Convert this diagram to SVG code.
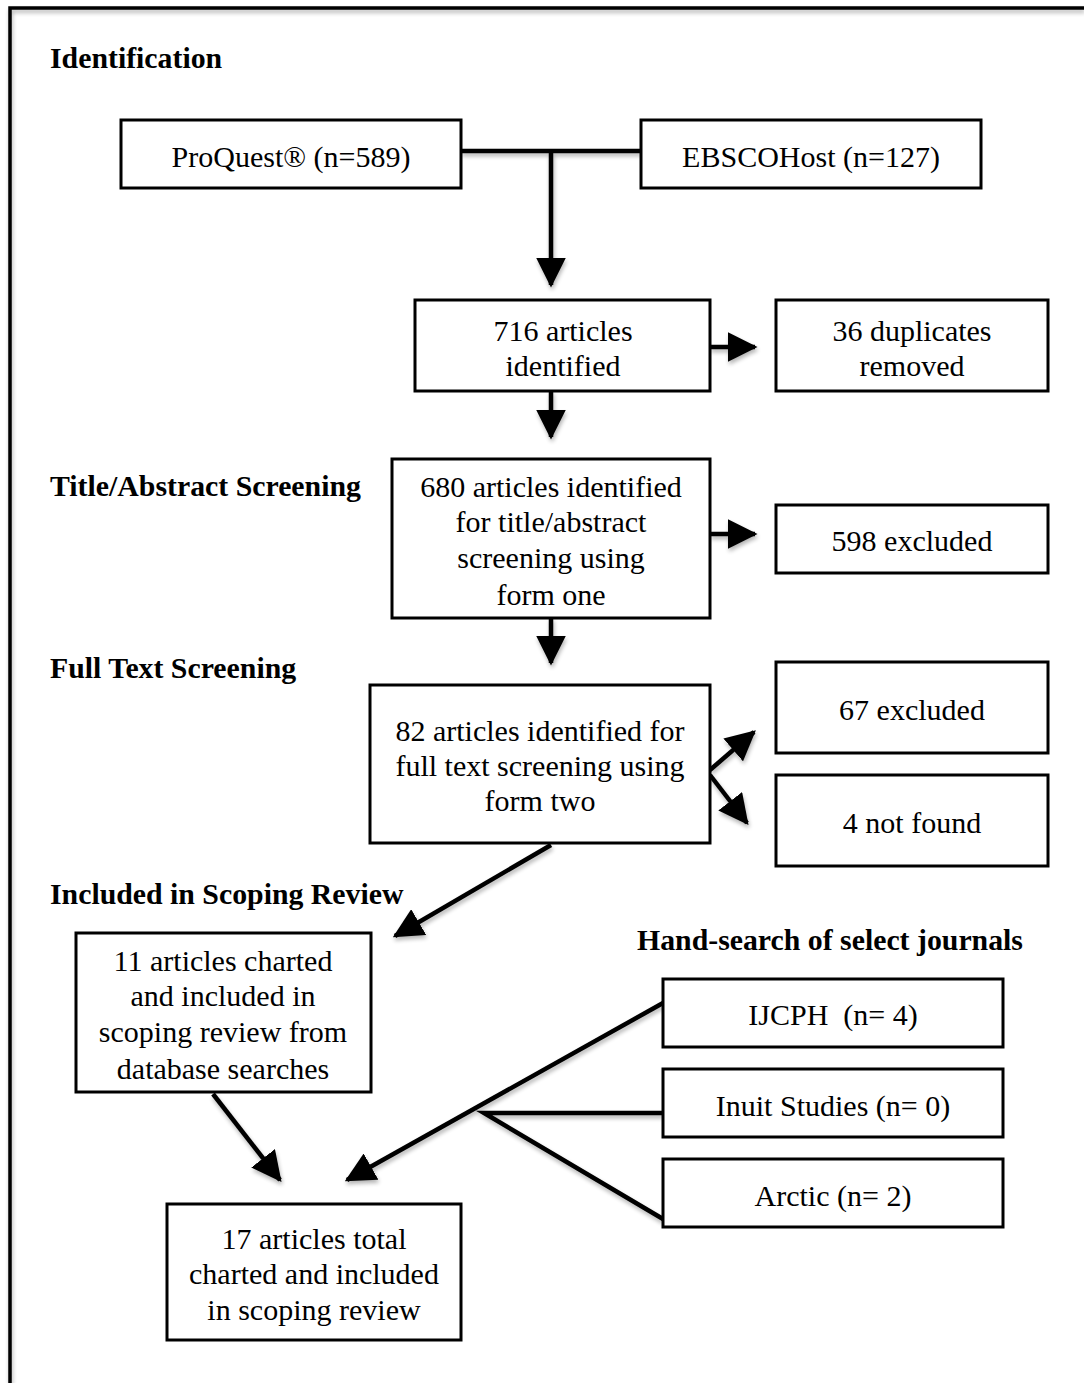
<svg xmlns="http://www.w3.org/2000/svg" width="1084" height="1383" viewBox="0 0 1084 1383">
<style>
.box{fill:#fff;stroke:#000;stroke-width:3}
.t{font-family:"Liberation Serif","Times New Roman",serif;font-size:30px;fill:#000;text-anchor:middle}
.h{font-family:"Liberation Serif","Times New Roman",serif;font-size:29.8px;font-weight:bold;fill:#000}
.c{fill:none;stroke:#000;stroke-width:4.5}
</style>
<defs>
<marker id="ah" markerUnits="userSpaceOnUse" markerWidth="30" markerHeight="30" viewBox="0 0 24 24" refX="22" refY="12" orient="auto">
<path d="M0,0 L24,12 L0,24 Z" fill="#000"/>
</marker>
<filter id="sh" x="-10%" y="-10%" width="130%" height="130%">
<feGaussianBlur in="SourceAlpha" stdDeviation="2"/>
<feOffset dx="1" dy="3" result="b"/>
<feComponentTransfer><feFuncA type="linear" slope="0.3"/></feComponentTransfer>
<feMerge><feMergeNode/><feMergeNode in="SourceGraphic"/></feMerge>
</filter>
</defs>
<rect width="1084" height="1383" fill="#fff"/>
<path d="M10,1383 L10,8 L1084,8" fill="none" stroke="#000" stroke-width="3.5" filter="url(#sh)"/>

<g id="headings">
<text class="h" x="50" y="68">Identification</text>
<text class="h" x="50" y="496">Title/Abstract Screening</text>
<text class="h" x="50" y="678">Full Text Screening</text>
<text class="h" x="50" y="904">Included in Scoping Review</text>
<text class="h" x="637" y="950">Hand-search of select journals</text>
</g>

<g id="connectors" filter="url(#sh)">
<path class="c" d="M461,151 L641,151"/>
<path class="c" d="M551,151 L551,285" marker-end="url(#ah)"/>
<path class="c" d="M710,347 L755,347" marker-end="url(#ah)"/>
<path class="c" d="M551,391 L551,437" marker-end="url(#ah)"/>
<path class="c" d="M710,534 L755,534" marker-end="url(#ah)"/>
<path class="c" d="M551,618 L551,663" marker-end="url(#ah)"/>
<path class="c" d="M710,770 L754,732" marker-end="url(#ah)"/>
<path class="c" d="M710,775 L747,823" marker-end="url(#ah)"/>
<path class="c" d="M551,845 L395,936" marker-end="url(#ah)"/>
<path class="c" d="M213,1094 L280,1180" marker-end="url(#ah)"/>
<path class="c" d="M663,1003 L347,1180" marker-end="url(#ah)"/>
<path class="c" d="M663,1113 L484,1113 L663,1219"/>
</g>

<g id="proquest"><rect class="box" x="121" y="120" width="340" height="68"/><text class="t" x="291" y="167">ProQuest® (n=589)</text></g>
<g id="ebsco"><rect class="box" x="641" y="120" width="340" height="68"/><text class="t" x="811" y="167">EBSCOHost (n=127)</text></g>
<g id="identified"><rect class="box" x="415" y="300" width="295" height="91"/><text class="t" x="563" y="341">716 articles</text><text class="t" x="563" y="376">identified</text></g>
<g id="duplicates"><rect class="box" x="776" y="300" width="272" height="91"/><text class="t" x="912" y="341">36 duplicates</text><text class="t" x="912" y="376">removed</text></g>
<g id="titleabs"><rect class="box" x="392" y="459" width="318" height="159"/><text class="t" x="551" y="497">680 articles identified</text><text class="t" x="551" y="532">for title/abstract</text><text class="t" x="551" y="568">screening using</text><text class="t" x="551" y="605">form one</text></g>
<g id="excl598"><rect class="box" x="776" y="505" width="272" height="68"/><text class="t" x="912" y="551">598 excluded</text></g>
<g id="fulltext"><rect class="box" x="370" y="685" width="340" height="158"/><text class="t" x="540" y="741">82 articles identified for</text><text class="t" x="540" y="776">full text screening using</text><text class="t" x="540" y="811">form two</text></g>
<g id="excl67"><rect class="box" x="776" y="662" width="272" height="91"/><text class="t" x="912" y="720">67 excluded</text></g>
<g id="notfound"><rect class="box" x="776" y="775" width="272" height="91"/><text class="t" x="912" y="833">4 not found</text></g>
<g id="included11"><rect class="box" x="76" y="933" width="295" height="159"/><text class="t" x="223" y="971">11 articles charted</text><text class="t" x="223" y="1006">and included in</text><text class="t" x="223" y="1042">scoping review from</text><text class="t" x="223" y="1079">database searches</text></g>
<g id="ijcph"><rect class="box" x="663" y="979" width="340" height="68"/><text class="t" x="833" y="1025" xml:space="preserve">IJCPH  (n= 4)</text></g>
<g id="inuit"><rect class="box" x="663" y="1069" width="340" height="68"/><text class="t" x="833" y="1116">Inuit Studies (n= 0)</text></g>
<g id="arctic"><rect class="box" x="663" y="1159" width="340" height="68"/><text class="t" x="833" y="1206">Arctic (n= 2)</text></g>
<g id="total17"><rect class="box" x="167" y="1204" width="294" height="136"/><text class="t" x="314" y="1249">17 articles total</text><text class="t" x="314" y="1284">charted and included</text><text class="t" x="314" y="1320">in scoping review</text></g>
</svg>
